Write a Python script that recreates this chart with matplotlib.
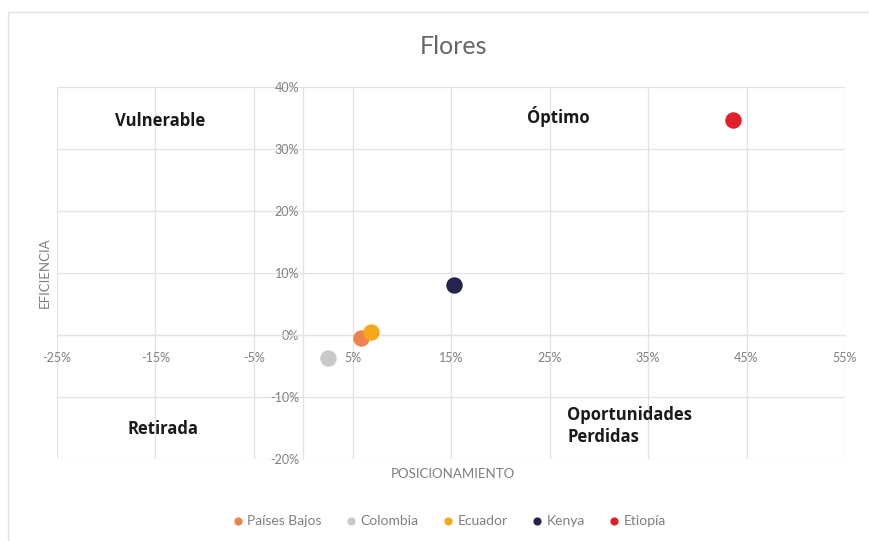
import matplotlib.pyplot as plt
from matplotlib.patches import Rectangle
from matplotlib.ticker import FuncFormatter, MultipleLocator

plt.rcParams['font.family'] = ['Lato', 'DejaVu Sans']

# datos (en %)
paises = ['Países Bajos', 'Colombia', 'Ecuador', 'Kenya', 'Etiopía']
posicionamiento = [5.9, 2.5, 6.9, 15.3, 43.6]
eficiencia = [-0.5, -3.7, 0.5, 8.1, 34.7]
colores = ['#EE8150', '#C9C9C9', '#F4A91C', '#25244F', '#E11F2B']

cuadrantes = ['Vulnerable', 'Óptimo', 'Retirada', 'Oportunidades\nPerdidas']
cuad_x = [-14.5, 25.9, -14.2, 26.8]
cuad_y = [34.5, 35.3, -15.2, -14.7]
cuad_ha = ['center', 'center', 'center', 'left']

grid_c = '#E2E2E2'
txt_c = '#7F7F7F'

fig = plt.figure(figsize=(8.69, 5.41), dpi=100)
fig.patches.append(Rectangle((8/869, -0.1), 1.1, 1 - 12/541 + 0.1,
                             transform=fig.transFigure, fill=False,
                             edgecolor=grid_c, linewidth=1))
ax = fig.add_axes([57/869, 1 - 459/541, (845 - 57)/869, (459 - 87)/541])

for p, x, y, c in zip(paises, posicionamiento, eficiencia, colores):
    ax.scatter(x, y, s=140, color=c, label=p, zorder=3, linewidths=0)

ax.set_xlim(-25, 55)
ax.set_ylim(-20, 40)
ax.xaxis.set_major_locator(MultipleLocator(10, offset=5))
ax.yaxis.set_major_locator(MultipleLocator(10))
fmt = FuncFormatter(lambda v, pos: '{:.0f}%'.format(v))
ax.xaxis.set_major_formatter(fmt)
ax.yaxis.set_major_formatter(fmt)
ax.grid(True, color=grid_c, linewidth=0.9)
ax.set_axisbelow(True)

ax.spines['left'].set_position(('data', 0))
ax.spines['bottom'].set_position(('data', 0))
ax.spines['top'].set_visible(False)
ax.spines['right'].set_visible(False)
for s in ['left', 'bottom']:
    ax.spines[s].set_color(grid_c)
    ax.spines[s].set_linewidth(0.9)
ax.tick_params(length=0, labelsize=9, colors=txt_c)
ax.tick_params(axis='x', pad=12)
ax.tick_params(axis='y', pad=3)

for t, x, y, ha in zip(cuadrantes, cuad_x, cuad_y, cuad_ha):
    ax.text(x, y, t, ha=ha, va='center', fontsize=12, fontweight='bold',
            family=['Open Sans', 'DejaVu Sans'], color='#1A1A1A',
            linespacing=1.3)

fig.text(453/869, 1 - 47/541, 'Flores', ha='center', va='center',
         fontsize=18, color='#666666')
fig.text(45/869, 1 - 273/541, 'EFICIENCIA', ha='center', va='center',
         rotation=90, fontsize=9.5, color=txt_c)
fig.text(453/869, 1 - 474/541, 'POSICIONAMIENTO', ha='center', va='center',
         fontsize=9.5, color=txt_c)

leg = fig.legend(loc='center', bbox_to_anchor=(449/869, 1 - 521/541), ncol=5,
                 frameon=False, fontsize=10, markerscale=0.5,
                 handlelength=0.8, handletextpad=0.3, columnspacing=1.7)
for t in leg.get_texts():
    t.set_color(txt_c)

fig.savefig('out.png', dpi=100)
